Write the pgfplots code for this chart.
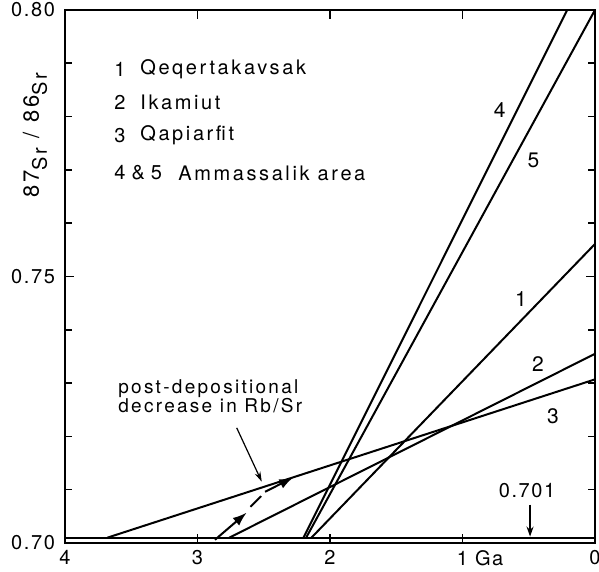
\documentclass[border=0pt]{standalone}
\usepackage{pgfplots}
\pgfplotsset{compat=1.18}
\usepackage{fontspec}
\setmainfont{TeX Gyre Heros}
\usetikzlibrary{arrows.meta}

\newcommand{\tickf}{\fontsize{10}{12}\selectfont\addfontfeature{LetterSpace=8}}
\newcommand{\legf}{\fontsize{10}{12}\selectfont\addfontfeature{LetterSpace=13}}
\newcommand{\annf}{\fontsize{9.5}{11}\selectfont\addfontfeature{LetterSpace=12}}
\newcommand{\numf}{\fontsize{10.5}{12}\selectfont}
\newcommand{\srf}{\fontsize{11}{13}\selectfont\addfontfeature{LetterSpace=12}}
\tikzset{leg/.style={font=\legf, anchor=west, inner sep=0pt}}

\begin{document}
\begin{tikzpicture}
\begin{axis}[
    name=ax,
    scale only axis,
    width=265pt, height=266.5pt,
    clip=false,
    x dir=reverse,
    xmin=0, xmax=4, ymin=0.70, ymax=0.80,
    xtick={0,1,2,3,4},
    xticklabels={0,1\rlap{\hspace{0.35em}Ga},2,3,4},
    xtick pos=both,
    ytick={0.70,0.75,0.80},
    minor ytick={0.71,0.72,0.73,0.74,0.76,0.77,0.78,0.79},
    ytick pos=both,
    xticklabel pos=lower,
    yticklabel pos=left,
    yticklabel style={/pgf/number format/fixed,
        /pgf/number format/fixed zerofill,
        /pgf/number format/precision=2, xshift=-1.5pt},
    /pgf/number format/assume math mode=true,
    tick align=inside,
    major tick length=4.5pt, minor tick length=3.5pt,
    axis line style={line width=1.2pt},
    tick style={line width=0.8pt, black},
    every tick label/.append style={font=\tickf},
]
% initial 87Sr/86Sr
\addplot[black, line width=1pt] coordinates {(4,0.701) (0,0.701)};
% 3 Qapiarfit
\addplot[black, line width=1pt] coordinates {(3.68,0.701) (0,0.7307)};
% 2 Ikamiut
\addplot[black, line width=1pt] coordinates {(2.76,0.701) (0,0.7355)};
% 1 Qeqertakavsak
\addplot[black, line width=1pt] coordinates {(2.14,0.701) (0,0.7561)};
% 4 and 5 Ammassalik area
\addplot[black, line width=1pt] coordinates {(2.20,0.701) (0.21,0.80)};
\addplot[black, line width=1pt] coordinates {(2.18,0.701) (0,0.80)};

% post-depositional shift
\addplot[black, line width=1pt, -{Latex[length=7pt,width=5pt]}] coordinates {(2.868,0.7006) (2.629,0.7057)};
\addplot[black, line width=1pt] coordinates {(2.600,0.7068) (2.520,0.7088)};
\addplot[black, line width=1pt, -{Latex[length=7pt,width=5pt]}] coordinates {(2.490,0.7096) (2.277,0.7123)};
\addplot[black, line width=0.6pt, -{Stealth[length=5pt,width=3pt]}] coordinates {(2.704,0.7216) (2.515,0.7115)};
\addplot[black, line width=0.8pt, -{Stealth[length=5pt,width=3.5pt]}] coordinates {(0.49,0.7072) (0.49,0.7012)};

\node[font=\tickf] at (axis cs:0.513,0.7098) {0.701};
\node[font=\annf, anchor=base west, inner sep=0pt] at (axis cs:3.60,0.7280) {post-depositional};
\node[font=\annf, anchor=base west, inner sep=0pt] at (axis cs:3.60,0.7245) {decrease in Rb/Sr};

\node[leg] at (axis cs:3.630,0.7889) {1};
\node[leg] at (axis cs:3.434,0.7889) {Qeqertakavsak};
\node[leg] at (axis cs:3.630,0.7827) {2};
\node[leg] at (axis cs:3.434,0.7827) {Ikamiut};
\node[leg] at (axis cs:3.630,0.7765) {3};
\node[leg] at (axis cs:3.434,0.7765) {Qapiarfit};
\node[leg] at (axis cs:3.630,0.7694) {4\hspace{3pt}\&\hspace{3pt}5};
\node[leg] at (axis cs:3.147,0.7694) {Ammassalik area};

\node[font=\numf] at (axis cs:0.720,0.7813) {4};
\node[font=\numf] at (axis cs:0.465,0.7718) {5};
\node[font=\numf] at (axis cs:0.558,0.7458) {1};
\node[font=\numf] at (axis cs:0.430,0.7336) {2};
\node[font=\numf] at (axis cs:0.317,0.7238) {3};

% y label
\node[rotate=90, font=\srf, inner sep=0pt] at (axis cs:4.226,0.7765)
  {87\raisebox{-4pt}{\fontsize{10}{12}\selectfont Sr}\hspace{5pt}/\hspace{5pt}86\raisebox{-4pt}{\fontsize{10}{12}\selectfont Sr}};
\end{axis}
\pgfresetboundingbox
\path ([shift={(-32.5pt,-14.5pt)}]ax.south west) rectangle ([shift={(2pt,5pt)}]ax.north east);
\end{tikzpicture}
\end{document}
